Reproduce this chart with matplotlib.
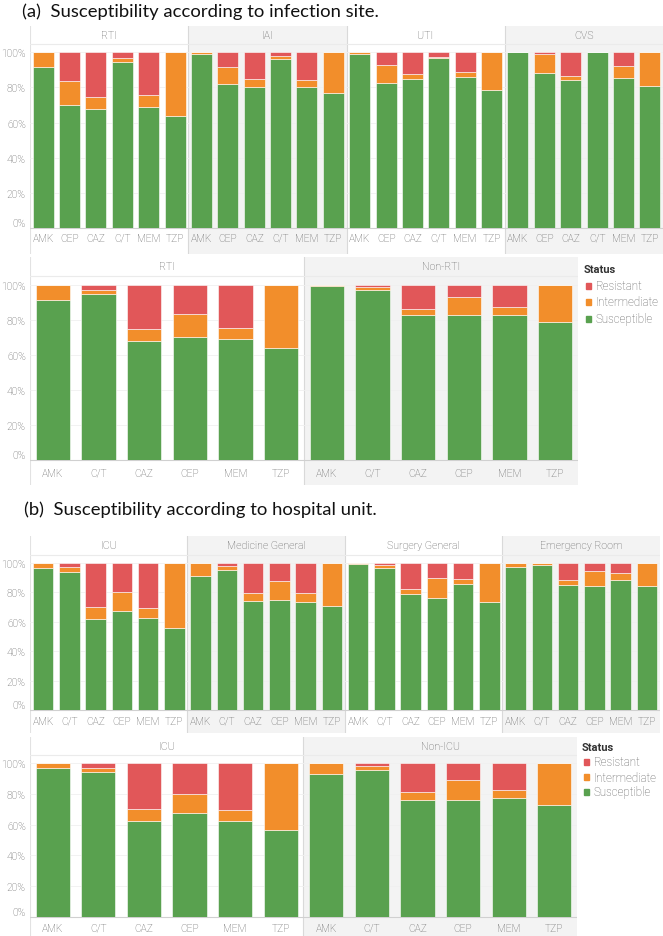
import matplotlib
matplotlib.use('Agg')
import matplotlib.pyplot as plt
from matplotlib.patches import Rectangle

W, H = 663, 937

# Data (percent): susceptible / intermediate / resistant
drugs_site = ['AMK', 'CEP', 'CAZ', 'C/T', 'MEM', 'TZP']
drugs_alt = ['AMK', 'C/T', 'CAZ', 'CEP', 'MEM', 'TZP']

sites = ['RTI', 'IAI', 'UTI', 'CVS']
site_s = [[91.5, 70, 68, 94.5, 69, 64],
          [99, 82, 80, 96, 80.5, 77],
          [99, 82.5, 85, 96.5, 86, 78.5],
          [100, 88, 84, 100, 85.5, 81]]
site_i = [[8.5, 13.5, 6.5, 2.5, 6.5, 36],
          [1, 9.5, 5, 2, 3.5, 23],
          [1, 10, 2.5, 1, 3, 21.5],
          [0, 11, 2.5, 0, 6.5, 19]]

rti = ['RTI', 'Non-RTI']
rti_s = [[91.5, 94.5, 68, 70, 69, 64],
         [99.5, 97, 82.5, 83, 83, 78.5]]
rti_i = [[8.5, 2.5, 6.5, 13.5, 6.5, 36],
         [0.5, 1.5, 3.5, 10, 4, 21.5]]

units = ['ICU', 'Medicine General', 'Surgery General', 'Emergency Room']
unit_s = [[96.5, 94, 62, 67.5, 62.5, 56],
          [91, 95, 74, 74.5, 73, 70.5],
          [99.3, 96.5, 78.5, 76, 85.5, 73.5],
          [97, 98.5, 85, 84, 88.5, 84]]
unit_i = [[3.5, 3, 8, 12.5, 7, 44],
          [9, 2.5, 5.5, 13, 6.5, 29.5],
          [0.7, 2, 3.5, 13.5, 3.5, 26.5],
          [3, 1, 3, 10.5, 4.5, 16]]

icu = ['ICU', 'Non-ICU']
icu_s = [[96.5, 94, 62.5, 67.5, 62.5, 56.5],
         [93, 95.5, 76, 76, 77, 73]]
icu_i = [[3.5, 3, 7.5, 12.5, 7, 43.5],
         [7, 2.5, 5, 13, 5.5, 27]]

status = ['Resistant', 'Intermediate', 'Susceptible']
colors = {'Susceptible': '#59a14f', 'Intermediate': '#f28e2b', 'Resistant': '#e15759'}

TXT = '#5c5c5c'
SHADE = '#f3f3f3'
LINE = '#e2e2e2'
tick_font = ['Roboto', 'DejaVu Sans']
title_font = ['Lato', 'DejaVu Sans']
FS = 7.4

fig = plt.figure(figsize=(W / 100, H / 100), dpi=100)


def rect(x0, y0, x1, y1):
    return [x0 / W, 1 - y1 / H, (x1 - x0) / W, (y1 - y0) / H]


def panel(facets, drugs, s_vals, i_vals, left, right, htop, hbot, y100, y0, rbot, lab_y, bw):
    n = len(drugs)
    nx = len(facets) * n
    xl = (-0.5, nx - 0.5)

    # background: header strip, shading, separators
    bg = fig.add_axes(rect(left, htop, right, rbot))
    bg.set_xlim(xl)
    bg.set_ylim(rbot, htop)
    bg.axis('off')
    for f, name in enumerate(facets):
        x0 = f * n - 0.5
        if f % 2 == 1:
            bg.add_patch(Rectangle((x0, htop), n, rbot - htop, color=SHADE, lw=0))
        if f > 0:
            bg.plot([x0, x0], [htop, rbot], color='#d9d9d9', lw=0.8)
        bg.text(x0 + n / 2, (htop + hbot) / 2, name, ha='center', va='center',
                fontsize=FS + 0.3, color=TXT, family=tick_font, fontweight='light')
        for j, d in enumerate(drugs):
            bg.text(f * n + j, lab_y, d, ha='center', va='center',
                    fontsize=FS, color=TXT, family=tick_font, fontweight='light')
    bg.plot([xl[0], xl[0]], [htop, rbot], color=LINE, lw=0.8)
    bg.plot(xl, [hbot, hbot], color='#ebebeb', lw=0.8)
    bg.plot(xl, [y0, y0], color='#d0d0d0', lw=0.8)

    # bars
    ax = fig.add_axes(rect(left, hbot, right, y0))
    ax.patch.set_alpha(0)
    top = 100 + (y100 - hbot) * 100 / (y0 - y100)
    ax.set_xlim(xl)
    ax.set_ylim(0, top)
    for f in range(len(facets)):
        xs = [f * n + j for j in range(n)]
        s = s_vals[f]
        i = i_vals[f]
        r = [100 - a - b for a, b in zip(s, i)]
        si = [a + b for a, b in zip(s, i)]
        ax.bar(xs, s, width=bw, color=colors['Susceptible'], edgecolor='#ffffff', lw=0.4)
        ax.bar(xs, i, bottom=s, width=bw, color=colors['Intermediate'], edgecolor='#ffffff', lw=0.4)
        ax.bar(xs, r, bottom=si, width=bw, color=colors['Resistant'], edgecolor='#ffffff', lw=0.4)
    for g in [20, 40, 60, 80, 100]:
        ax.axhline(g, color='#f0f0f0', lw=0.6, zorder=0)
    ax.set_yticks([0, 20, 40, 60, 80, 100])
    ax.set_yticklabels(['0%', '20%', '40%', '60%', '80%', '100%'],
                       fontsize=FS, color=TXT, family=tick_font, fontweight='light')
    ax.get_yticklabels()[0].set_verticalalignment('bottom')
    ax.tick_params(axis='y', length=0, pad=3)
    ax.set_xticks([])
    for sp in ax.spines.values():
        sp.set_visible(False)


def legend(x, y, dy):
    fig.text(x / W, 1 - y / H, 'Status', fontsize=8, fontweight='bold', color='#333333',
             family=tick_font, va='center')
    for k, st in enumerate(status):
        yy = y + dy * (k + 1)
        fig.patches.append(Rectangle(((x + 2) / W, 1 - (yy + 3) / H), 5 / W, 6 / H,
                                     color=colors[st], transform=fig.transFigure))
        fig.text((x + 12) / W, 1 - yy / H, st, fontsize=8.3, color=TXT,
                 family=tick_font, fontweight='light', va='center')


fig.text(22 / W, 1 - 12 / H, '(a)  Susceptibility according to infection site.',
         fontsize=13.3, color='#111111', family=title_font, va='center')
fig.text(24 / W, 1 - 510 / H, '(b)  Susceptibility according to hospital unit.',
         fontsize=13.3, color='#111111', family=title_font, va='center')

panel(sites, drugs_site, site_s, site_i, 30, 663, 27, 45, 53.3, 229, 255, 239, 0.8)
panel(rti, drugs_alt, rti_s, rti_i, 30, 578, 258, 277, 285.7, 461, 486, 474, 0.75)
legend(584, 270, 16.5)
panel(units, drugs_alt, unit_s, unit_i, 30, 660, 537, 556, 563.7, 711, 734, 722, 0.78)
panel(icu, drugs_alt, icu_s, icu_i, 30, 577, 738, 756, 764, 918, 937, 929, 0.75)
legend(582, 748, 15)

fig.savefig('out.png', dpi=100)
